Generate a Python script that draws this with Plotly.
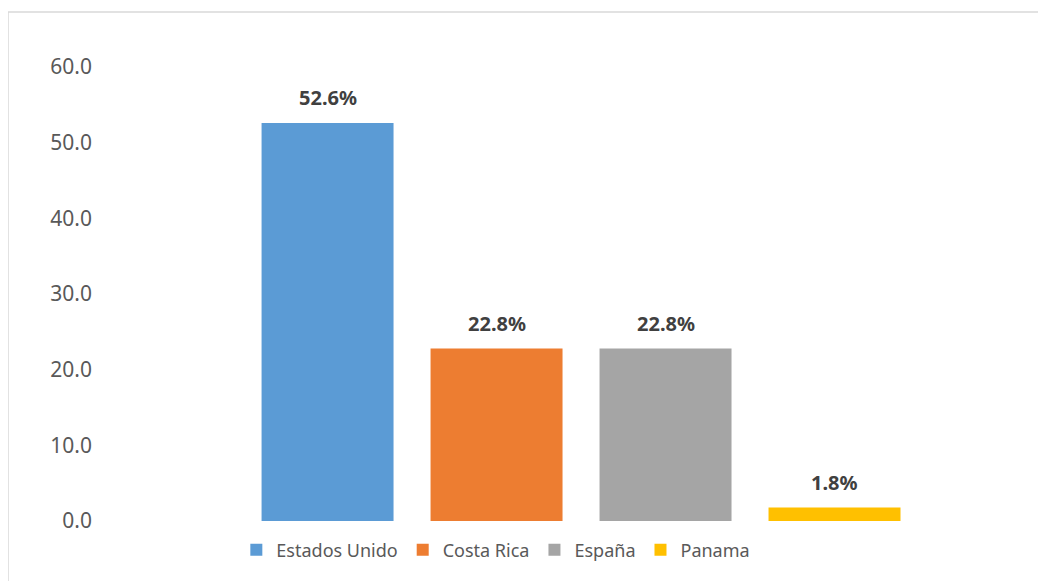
import plotly.graph_objects as go

countries = ["Estados Unido", "Costa Rica", "España", "Panama"]
values = [52.6, 22.8, 22.8, 1.8]
colors = ["#5b9bd5", "#ed7d31", "#a5a5a5", "#ffc000"]
y_ticks = [0, 10, 20, 30, 40, 50, 60]

# page body has an 8px margin, so the figure is laid out 8px smaller
OFF = 8
W, H = 1046 - OFF, 581 - OFF
L, R, T, B = 105 - OFF, 6, 67 - OFF, 60
pw = W - L - R
ph = H - T - B

fig = go.Figure()
for name, v, c in zip(countries, values, colors):
    fig.add_trace(go.Bar(
        x=[name], y=[v], name=name, marker=dict(color=c, line=dict(width=0)),
        hoverinfo="skip",
    ))

for name, v in zip(countries, values):
    fig.add_annotation(
        x=name, y=v, xref="x", yref="y", text=f"<b>{v:.1f}%</b>",
        showarrow=False, yanchor="middle", yshift=25,
        font=dict(family="Noto Sans", size=20, color="#404040"),
    )

# chart-area border (extends beyond the visible crop on right/bottom)
fig.add_shape(
    type="rect", xref="paper", yref="paper",
    x0=(8 - OFF - L) / pw, x1=1.2, y0=-0.3, y1=(H - B - (12 - OFF)) / ph,
    line=dict(color="#d9d9d9", width=1.5), fillcolor="rgba(0,0,0,0)", layer="below",
)

fig.update_layout(
    width=W, height=H,
    margin=dict(l=L, r=R, t=T, b=B, pad=0),
    paper_bgcolor="white", plot_bgcolor="white",
    barmode="overlay", bargap=0.219,
    showlegend=True,
    legend=dict(
        orientation="h", xanchor="center", yanchor="middle",
        x=0.418, y=-((550 - OFF) - (H - B)) / ph,
        font=dict(family="Noto Sans", size=18, color="#595959"),
        itemclick=False, itemdoubleclick=False,
    ),
    xaxis=dict(
        type="category", categoryorder="array", categoryarray=countries,
        range=[-1.317, 4.216], showticklabels=False, showline=False,
        showgrid=False, zeroline=False, ticks="",
    ),
    yaxis=dict(
        range=[0, 60], tickvals=y_ticks, tickformat=".1f",
        showgrid=False, zeroline=False, showline=False, ticks="",
        ticklabelstandoff=12,
        tickfont=dict(family="Noto Sans", size=21, color="#595959"),
    ),
)

fig.write_html("out.html")
